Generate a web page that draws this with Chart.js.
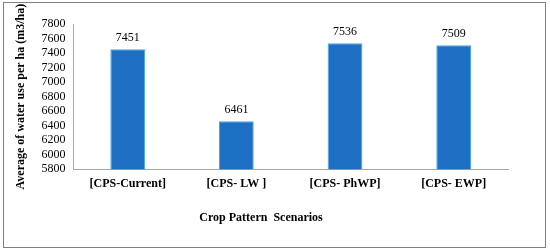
<!DOCTYPE html>
<html><head><meta charset="utf-8">
<script src="https://cdn.jsdelivr.net/npm/chart.js@4"></script>
<style>
html,body{margin:0;padding:0;background:#fff;}
#box{position:absolute;left:3px;top:2px;width:541px;height:244px;border:1px solid #808080;}
#c{display:block;}
</style></head>
<body>
<div id="box"><canvas id="c" width="541" height="244"></canvas></div>
<script>
const categories = ["[CPS-Current]", "[CPS- LW ]", "[CPS- PhWP]", "[CPS- EWP]"];
const waterUse = [7451, 6461, 7536, 7509];
const yMin = 5800, yMax = 7800, yStep = 200;
const yTitle = "Average of water use per ha (m3/ha)";
const xTitle = "Crop Pattern  Scenarios";

const valueLabels = {
  id: 'valueLabels',
  afterDatasetsDraw(chart) {
    const ctx = chart.ctx;
    const meta = chart.getDatasetMeta(0);
    ctx.save();
    ctx.font = '12px "Liberation Serif"';
    ctx.fillStyle = '#000';
    ctx.textAlign = 'center';
    ctx.textBaseline = 'bottom';
    meta.data.forEach((bar, i) => {
      ctx.fillText(String(chart.data.datasets[0].data[i]), bar.x, bar.y - 5);
    });
    ctx.restore();
  }
};

new Chart(document.getElementById('c'), {
  type: 'bar',
  data: {
    labels: categories,
    datasets: [{
      data: waterUse,
      backgroundColor: '#1c6fc2',
      borderColor: '#47a6ea',
      borderWidth: {left:1, right:1, top:1, bottom:0},
      barPercentage: 0.32,
      categoryPercentage: 1.0
    }]
  },
  options: {
    responsive: false,
    animation: false,
    layout: { padding: { left: 10, right: 37, top: 21, bottom: 8 } },
    plugins: {
      legend: { display: false },
      tooltip: { enabled: false },
      title: {
        display: true,
        position: 'bottom',
        text: xTitle,
        color: '#000',
        font: { family: 'Liberation Serif', size: 12, weight: 'bold' },
        padding: { top: 11, bottom: 14 }
      }
    },
    scales: {
      x: {
        grid: { display: false, drawTicks: false },
        border: { display: true, color: '#a6a6a6', width: 1 },
        ticks: {
          color: '#000',
          padding: 8,
          font: { family: 'Liberation Serif', size: 12, weight: 'bold' }
        }
      },
      y: {
        min: yMin, max: yMax,
        grid: { display: false, drawTicks: false },
        border: { display: true, color: '#a6a6a6', width: 1 },
        ticks: {
          stepSize: yStep,
          autoSkip: false,
          color: '#000',
          padding: 8,
          font: { family: 'Liberation Serif', size: 12 },
          callback: (v) => String(v)
        },
        title: {
          display: true,
          text: yTitle,
          color: '#000',
          font: { family: 'Liberation Serif', size: 12, weight: 'bold' },
          padding: { top: 0, bottom: 5 }
        }
      }
    }
  },
  plugins: [valueLabels]
});
</script>
</body></html>
